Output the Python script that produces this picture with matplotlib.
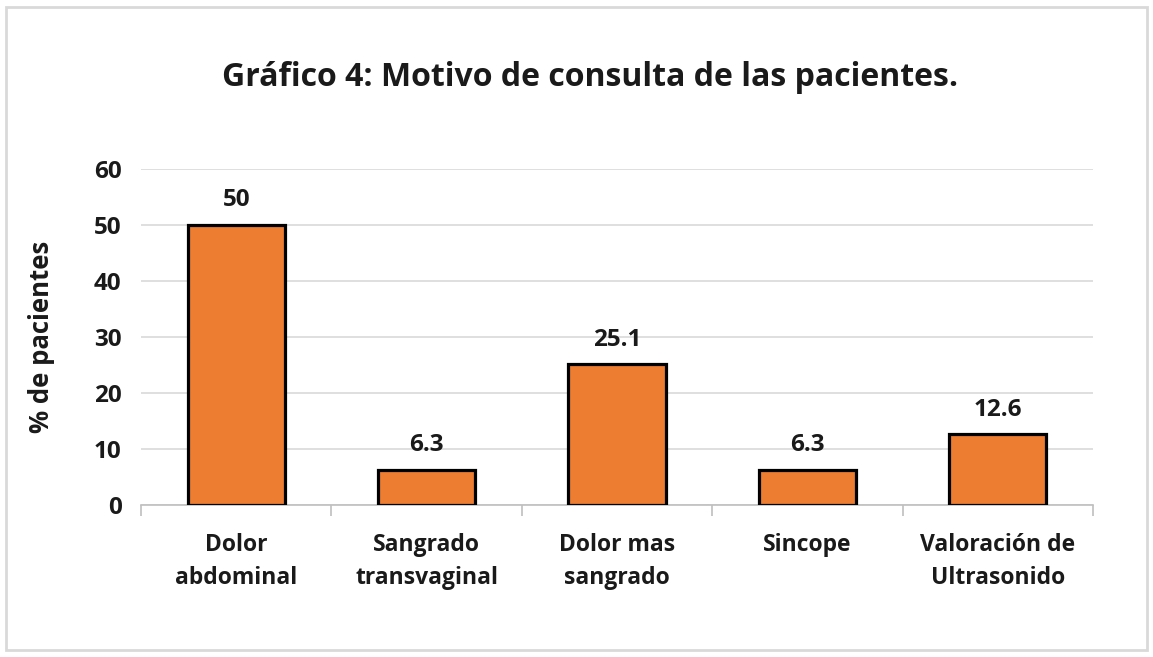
import matplotlib.pyplot as plt
from matplotlib.patches import Rectangle
from matplotlib.ticker import FixedLocator

categories = ["Dolor\nabdominal", "Sangrado\ntransvaginal", "Dolor mas\nsangrado",
              "Sincope", "Valoración de\nUltrasonido"]
values = [50, 6.3, 25.1, 6.3, 12.6]
value_labels = ["50", "6.3", "25.1", "6.3", "12.6"]
y_ticks = [0, 10, 20, 30, 40, 50, 60]

plt.rcParams["font.family"] = ["Open Sans", "DejaVu Sans"]
TEXT = "#1a1a1a"

fig = plt.figure(figsize=(11.53, 6.57), dpi=100)
fig.patches.append(Rectangle((0.005, 0.01), 0.99, 0.98, transform=fig.transFigure,
                             fill=False, edgecolor="#d9d9d9", linewidth=2))

ax = fig.add_axes([0.1223, 0.2314, 0.8257, 0.5114])
x = list(range(len(categories)))
ax.bar(x, values, width=0.51, color="#ED7D31", edgecolor="black", linewidth=2.3, zorder=3)

for xi, v, lab in zip(x, values, value_labels):
    ax.annotate(lab, (xi, v), xytext=(0, 9), textcoords="offset points",
                ha="center", va="bottom", fontsize=17.5, fontweight="bold", color=TEXT)

ax.set_xlim(-0.5, len(categories) - 0.5)
ax.set_ylim(0, 60)
ax.set_yticks(y_ticks)
ax.yaxis.grid(True, color="#d9d9d9", linewidth=1.2, zorder=0)
ax.set_axisbelow(True)
for s in ("top", "right", "left"):
    ax.spines[s].set_visible(False)
ax.spines["bottom"].set_color("#bfbfbf")
ax.spines["bottom"].set_linewidth(1.2)

ax.set_xticks(x)
ax.set_xticklabels(categories, fontsize=16.5, fontweight="bold", color=TEXT, linespacing=1.5)
ax.tick_params(axis="x", length=0, pad=20)
ax.xaxis.set_minor_locator(FixedLocator([i - 0.5 for i in range(len(categories) + 1)]))
ax.tick_params(axis="x", which="minor", length=8, color="#bfbfbf", width=1.2)
ax.tick_params(axis="y", length=0, pad=14, labelsize=17.5)
for t in ax.get_yticklabels():
    t.set_fontweight("bold")
    t.set_color(TEXT)

ax.set_ylabel("% de pacientes", fontsize=18.5, fontweight="bold", color=TEXT, labelpad=28)
fig.text(0.512, 0.882, "Gráfico 4: Motivo de consulta de las pacientes.",
         ha="center", va="center", fontsize=23, fontweight="bold", color=TEXT)

fig.savefig("out.png", dpi=100)
